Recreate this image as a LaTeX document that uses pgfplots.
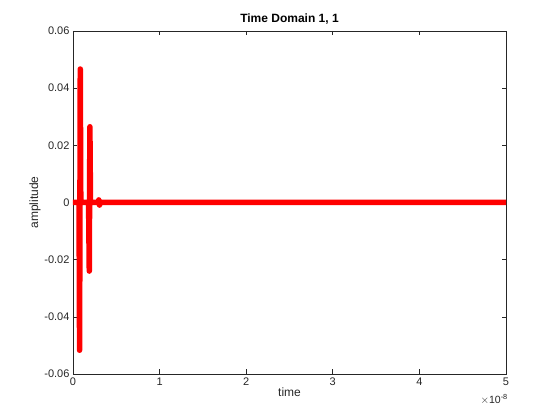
\documentclass[border=0pt]{standalone}
\usepackage{pgfplots}
\pgfplotsset{compat=1.18}
\usepackage{fontspec}
\setmainfont{Liberation Sans}
\definecolor{axgray}{gray}{0.15}
\begin{document}
\begin{tikzpicture}
\begin{axis}[
    scale only axis,
    width=433pt, height=343pt,
    xmin=0, xmax=5,
    ymin=-0.06, ymax=0.06,
    xtick={0,1,2,3,4,5},
    ytick={-0.06,-0.04,-0.02,0,0.02,0.04,0.06},
    yticklabels={-0.06,-0.04,-0.02,0,0.02,0.04,0.06},
    scaled y ticks=false,
    tick align=inside,
    major tick length=4.5pt,
    axis line style={axgray, line width=0.6pt},
    tick style={axgray, line width=0.6pt},
    tick label style={font=\fontsize{11}{13}\selectfont, text=axgray},
    /pgf/number format/assume math mode=true,
    title={\bfseries Time Domain 1, 1},
    title style={font=\fontsize{12}{14}\selectfont, yshift=-3pt},
    xlabel={time},
    ylabel={amplitude},
    label style={font=\fontsize{12}{14}\selectfont, text=axgray},
    xlabel style={yshift=4pt},
    ylabel style={yshift=-3pt},
]
\addplot[color=red, line width=5.5pt, line join=round, line cap=round]
    coordinates {
    (0,0)
    (0.070,0)
    (0.076,-0.0517)
    (0.084,0.0467)
    (0.090,0)
    (0.180,0)
    (0.188,-0.0240)
    (0.195,0.0265)
    (0.202,0)
    (0.290,0)
    (0.298,0.0009)
    (0.306,-0.0009)
    (0.314,0)
    (5,0)
    };
\end{axis}
\node[anchor=north east, font=\fontsize{10.5}{12}\selectfont, text=axgray, inner sep=0pt]
    at ([shift={(2pt,-20pt)}]current axis.south east) {$\times$10\textsuperscript{-8}};
\path ([shift={(-73pt,-46pt)}]current axis.south west) rectangle ([shift={(54pt,31pt)}]current axis.north east);
\end{tikzpicture}
\end{document}
